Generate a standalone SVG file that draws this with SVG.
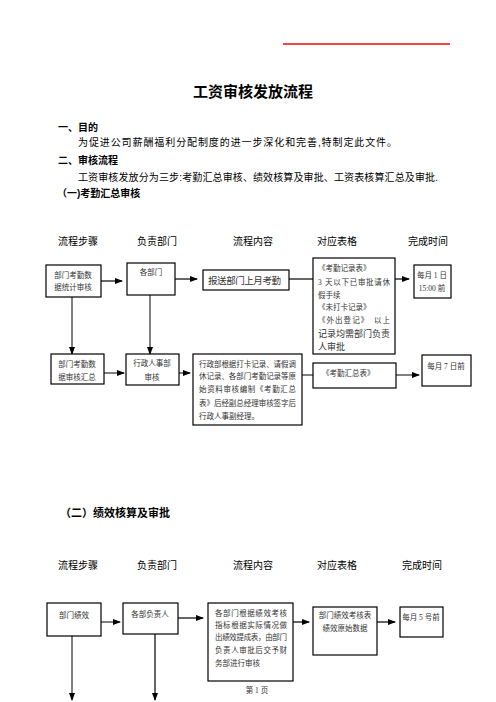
<svg xmlns="http://www.w3.org/2000/svg" width="496" height="702" viewBox="0 0 496 702">
<style>
.h{font-family:"Liberation Sans","Noto Sans CJK SC",sans-serif;fill:#000}
.b{font-weight:bold}
.t{font-family:"Liberation Serif","Noto Sans CJK SC",serif;font-size:7.5px;fill:#333}
.t9{font-size:9px}
.t10{font-size:9.5px}
.box{fill:#fff;stroke:#000;stroke-width:1.2}
.ln{stroke:#000;stroke-width:1;fill:none}
.gl{stroke:#666;stroke-width:2;fill:none}
</style>
<defs>
<marker id="ah" markerWidth="8" markerHeight="6" refX="7" refY="3" orient="auto" markerUnits="userSpaceOnUse">
<path d="M0,0 L8,3 L0,6 Z" fill="#000"/>
</marker>
</defs>
<rect width="496" height="702" fill="#fff"/>
<line x1="283" y1="44" x2="450" y2="44" stroke="#f00" stroke-width="1.5"/>
<text class="h b" x="253" y="97" font-size="15" text-anchor="middle">工资审核发放流程</text>
<text class="h b" x="58" y="131" font-size="10">一、目的</text>
<text class="h" x="78" y="146" font-size="10" textLength="319">为促进公司薪酬福利分配制度的进一步深化和完善,特制定此文件。</text>
<text class="h b" x="58" y="164" font-size="10">二、审核流程</text>
<text class="h" x="78" y="181" font-size="10" textLength="360">工资审核发放分为三步:考勤汇总审核、绩效核算及审批、工资表核算汇总及审批.</text>
<text class="h b" x="57" y="197" font-size="10">（一)考勤汇总审核</text>

<g id="headers1" class="h" font-size="10">
<text x="58" y="245">流程步骤</text>
<text x="137" y="245">负责部门</text>
<text x="233" y="245">流程内容</text>
<text x="317" y="245">对应表格</text>
<text x="408" y="245">完成时间</text>
</g>

<g id="connectors">
<line class="gl" x1="101" y1="281" x2="122" y2="281" marker-end="url(#ah)"/>
<line class="gl" x1="175" y1="279" x2="197" y2="279" marker-end="url(#ah)"/>
<line class="gl" x1="289" y1="279" x2="313" y2="279"/>
<line class="gl" x1="395" y1="279" x2="409" y2="279" marker-end="url(#ah)"/>
<line class="ln" x1="72" y1="297" x2="72" y2="354" marker-end="url(#ah)"/>
<line class="ln" x1="150" y1="295" x2="150" y2="354" marker-end="url(#ah)"/>
<line class="ln" x1="104" y1="373" x2="124" y2="373" marker-end="url(#ah)"/>
<line class="ln" x1="179" y1="373" x2="190" y2="373" marker-end="url(#ah)"/>
<line class="ln" x1="302" y1="375" x2="313" y2="375"/>
<line class="ln" x1="396" y1="375" x2="419" y2="375" marker-end="url(#ah)"/>
<line class="ln" x1="101" y1="622" x2="120" y2="622" marker-end="url(#ah)"/>
<line class="gl" x1="178" y1="618" x2="203" y2="618" marker-end="url(#ah)"/>
<line class="gl" x1="293" y1="622" x2="309" y2="622" marker-end="url(#ah)"/>
<line class="gl" x1="377" y1="622" x2="395" y2="622" marker-end="url(#ah)"/>
<line class="ln" x1="72" y1="636" x2="72" y2="700" marker-end="url(#ah)"/>
<line class="gl" x1="155" y1="634" x2="155" y2="700" marker-end="url(#ah)"/>
</g>

<g id="nA"><rect class="box" x="46" y="265" width="55" height="32"/>
<text class="t" x="73" y="278" text-anchor="middle">部门考勤数</text>
<text class="t" x="73" y="290" text-anchor="middle">据统计审核</text></g>
<g id="nB"><rect class="box" x="127" y="263" width="48" height="32"/>
<text class="t" x="151" y="275" text-anchor="middle">各部门</text></g>
<g id="nC"><rect class="box" x="203" y="270" width="86" height="20"/>
<text class="t t10" x="208" y="284" textLength="73">报送部门上月考勤</text></g>
<g id="nD"><rect class="box" x="313" y="258" width="82" height="96"/>
<text class="t" x="318" y="271">《考勤记录表》</text>
<text class="t" x="318" y="285" textLength="72">3 天以下已审批请休</text>
<text class="t" x="318" y="298">假手续</text>
<text class="t" x="318" y="310">《未打卡记录》</text>
<text class="t" x="318" y="323" textLength="72">《外出登记》　以上</text>
<text class="t t9" x="318" y="337" textLength="72">记录均需部门负责</text>
<text class="t t9" x="318" y="350">人审批</text></g>
<g id="nE"><rect class="box" x="414" y="265" width="37" height="33"/>
<text class="t" x="432" y="278" text-anchor="middle">每月 1 日</text>
<text class="t" x="432" y="291" text-anchor="middle">15:00 前</text></g>

<g id="nF"><rect class="box" x="51" y="354" width="53" height="30"/>
<text class="t" x="77" y="367" text-anchor="middle">部门考勤数</text>
<text class="t" x="77" y="380" text-anchor="middle">据审核汇总</text></g>
<g id="nG"><rect class="box" x="126" y="354" width="53" height="31"/>
<text class="t" x="152" y="366" text-anchor="middle">行政人事部</text>
<text class="t" x="152" y="380" text-anchor="middle">审核</text></g>
<g id="nH"><rect class="box" x="193" y="354" width="109" height="71"/>
<text class="t" x="199" y="367" textLength="97">行政部根据打卡记录、请假调</text>
<text class="t" x="199" y="379" textLength="97">休记录、各部门考勤记录等原</text>
<text class="t" x="199" y="392" textLength="97">始资料审核编制《考勤汇总</text>
<text class="t" x="199" y="406" textLength="97">表》后经副总经理审核签字后</text>
<text class="t" x="199" y="419">行政人事副经理。</text></g>
<g id="nI"><rect class="box" x="313" y="363" width="83" height="25"/>
<text class="t" x="322" y="376">《考勤汇总表》</text></g>
<g id="nJ"><rect class="box" x="422" y="355" width="49" height="31"/>
<text class="t" x="446" y="369" text-anchor="middle">每月 7 日前</text></g>

<text class="h b" x="60" y="517" font-size="11">（二）绩效核算及审批</text>
<g id="headers2" class="h" font-size="10">
<text x="58" y="569">流程步骤</text>
<text x="137" y="569">负责部门</text>
<text x="233" y="569">流程内容</text>
<text x="317" y="569">对应表格</text>
<text x="402" y="569">完成时间</text>
</g>

<g id="nK"><rect class="box" x="47" y="603" width="54" height="33"/>
<text class="t" x="74" y="618" text-anchor="middle">部门绩效</text></g>
<g id="nL"><rect class="box" x="123" y="603" width="55" height="31"/>
<text class="t" x="150" y="617" text-anchor="middle">各部负责人</text></g>
<g id="nM"><rect class="box" x="208" y="603" width="85" height="78"/>
<text class="t" x="215" y="616" textLength="72">各部门根据绩效考核</text>
<text class="t" x="215" y="628" textLength="72">指标根据实际情况做</text>
<text class="t" x="215" y="640" textLength="72">出绩效提成表，由部门</text>
<text class="t" x="215" y="653" textLength="72">负责人审批后交予财</text>
<text class="t" x="215" y="666">务部进行审核</text></g>
<g id="nN"><rect class="box" x="313" y="607" width="64" height="48"/>
<text class="t" x="345" y="618" text-anchor="middle">部门绩效考核表</text>
<text class="t" x="345" y="631" text-anchor="middle">绩效原始数据</text></g>
<g id="nO"><rect class="box" x="400" y="607" width="43" height="30"/>
<text class="t" x="421" y="620" text-anchor="middle">每月 5 号前</text></g>

<text class="t" x="257" y="693" text-anchor="middle">第 1 页</text>
</svg>
